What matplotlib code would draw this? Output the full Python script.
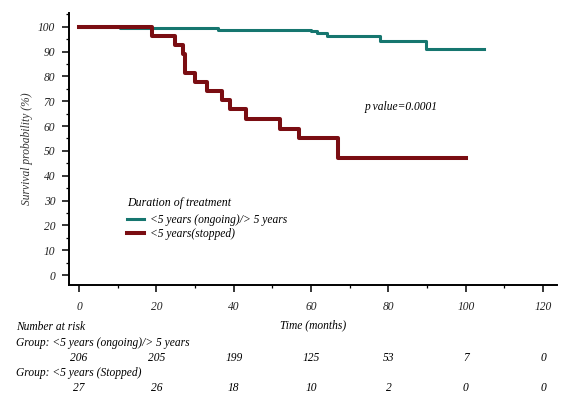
import matplotlib
matplotlib.use("Agg")
import matplotlib.pyplot as plt
import matplotlib.transforms as mtransforms
from matplotlib.ticker import MultipleLocator

# fonts: Times-like italic everywhere
plt.rcParams['font.family'] = ['Liberation Serif', 'DejaVu Serif']
plt.rcParams['font.style'] = 'italic'

# Kaplan-Meier steps
ongoing_t = [0, 10.6, 36.0, 60.1, 61.5, 64.0, 77.8, 89.8, 104.7]
ongoing_s = [100, 99.5, 98.8, 98.2, 97.3, 96.2, 94.1, 91.0, 91.0]

stopped_t = [0, 18.8, 24.8, 26.8, 27.5, 30.0, 33.0, 36.9, 39.0, 43.1, 52.0, 56.8, 67.0, 100.0]
stopped_s = [100, 96.3, 92.6, 88.9, 81.5, 77.8, 74.1, 70.4, 66.7, 63.0, 59.0, 55.0, 47.0, 47.0]

risk_times = [0, 20, 40, 60, 80, 100, 120]
risk_ongoing = [206, 205, 199, 125, 53, 7, 0]
risk_stopped = [27, 26, 18, 10, 2, 0, 0]

labels = ["<5 years (ongoing)/> 5 years", "<5 years(stopped)"]
colors = ["#16766f", "#7a0d12"]

W, H = 586, 408
fs = 8.3
fig = plt.figure(figsize=(W / 100, H / 100), dpi=100)
ax = fig.add_axes([69 / W, 1 - 285 / H, (557 - 69) / W, (285 - 13) / H])

ax.step(ongoing_t, ongoing_s, where='post', color=colors[0], lw=2.2, label=labels[0])
ax.step(stopped_t, stopped_s, where='post', color=colors[1], lw=2.9, label=labels[1])

ax.set_xlim(-2.6, 123.6)
ax.set_ylim(-4, 105.5)
ax.xaxis.set_major_locator(MultipleLocator(20))
ax.xaxis.set_minor_locator(MultipleLocator(10))
ax.yaxis.set_major_locator(MultipleLocator(10))
ax.yaxis.set_minor_locator(MultipleLocator(5))
ax.set_yticks(range(0, 101, 10))

for s in ['top', 'right']:
    ax.spines[s].set_visible(False)
for s in ['left', 'bottom']:
    ax.spines[s].set_linewidth(1.4)

ax.tick_params(which='major', length=5, width=1.1, labelsize=fs, color='black', labelcolor='#222')
ax.tick_params(which='minor', length=2.5, width=0.9)
ax.tick_params(axis='x', which='major', pad=6.5)
ax.tick_params(axis='y', which='major', pad=5)

ax.set_xlabel("Time (months)", fontsize=fs, va='center')
ax.xaxis.set_label_coords(0.5, (285 - 325) / 272)
ax.set_ylabel("Survival probability (%)", fontsize=fs, va='center', color='#333')
ax.yaxis.set_label_coords((27 - 69) / 488, 0.5)

ax.text(83.4, 67.5, "p value=0.0001", fontsize=fs, ha='center', va='center')

leg = ax.legend(loc='upper left', bbox_to_anchor=(117 / W, 1 - 187 / H),
                bbox_transform=fig.transFigure, frameon=False, fontsize=fs,
                title="Duration of treatment", title_fontsize=8.6, alignment='left',
                handlelength=1.4, handletextpad=0.55, labelspacing=0.22)
leg._legend_box.sep = 3

# number at risk table under the axis
blend = mtransforms.blended_transform_factory(ax.transData, fig.transFigure)
fig.text(16 / W, 1 - 327 / H, "Number at risk", fontsize=fs, va='center')
fig.text(16 / W, 1 - 343 / H, "Group: <5 years (ongoing)/> 5 years", fontsize=fs, va='center')
fig.text(16 / W, 1 - 373 / H, "Group: <5 years (Stopped)", fontsize=fs, va='center')
for t, a, b in zip(risk_times, risk_ongoing, risk_stopped):
    ax.text(t, 1 - 358 / H, str(a), transform=blend, fontsize=fs, ha='center', va='center')
    ax.text(t, 1 - 388 / H, str(b), transform=blend, fontsize=fs, ha='center', va='center')

fig.savefig("out.png", dpi=100)
